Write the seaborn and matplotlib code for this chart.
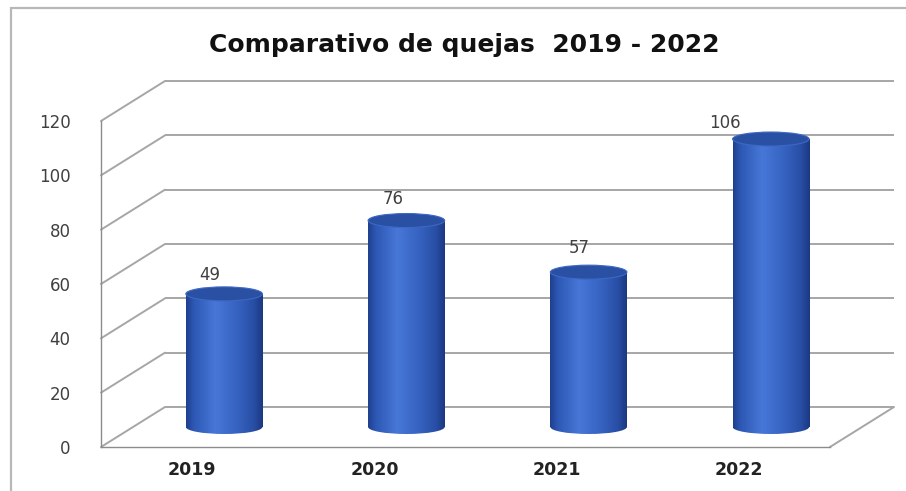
import numpy as np
import pandas as pd
import matplotlib
matplotlib.use("Agg")
import matplotlib.pyplot as plt
import matplotlib.transforms as mtransforms
from matplotlib.patches import Ellipse, Rectangle
from matplotlib.colors import LinearSegmentedColormap
import seaborn as sns

# ---- data ----
years = ["2019", "2020", "2021", "2022"]
quejas = [49, 76, 57, 106]
y_ticks = [0, 20, 40, 60, 80, 100, 120]
title = "Comparativo de quejas  2019 - 2022"

# label nudges (pixels) relative to the top of each cylinder
label_dx = [-14, -13, -9, -46]
label_dy = [19, 22, 24, 16]

# ---- style ----
W, H, DPI = 906, 491, 100
sns.set_style("white")
plt.rcParams["font.family"] = ["DejaVu Sans"]
GRID = "#a6a6a6"
AXIS = "#8c8c8c"
TEXT = "#404040"

fig = plt.figure(figsize=(W / DPI, H / DPI), dpi=DPI)

# front plane of the 3-D box (pixel edges)
left, right, floor_px, top_px = 101, 830, 447, 121
ax = fig.add_axes([left / W, 1 - floor_px / H, (right - left) / W, (floor_px - top_px) / H])

df = pd.DataFrame({"year": years, "quejas": quejas})
sns.barplot(data=df, x="year", y="quejas", width=0.42, color="#3a66c8",
            errorbar=None, ax=ax, zorder=3)
ax.set_xlim(-0.5, 3.5)
ax.set_ylim(0, 120)
ax.set_xlabel("")
ax.set_ylabel("")

# depth of the box in data units
px_x = (right - left) / 4.0
px_y = (floor_px - top_px) / 120.0
DX, DY = 64 / px_x, 40 / px_y
back = mtransforms.Affine2D().translate(DX, DY) + ax.transData
mid = mtransforms.Affine2D().translate(DX / 2, DY / 2) + ax.transData

# back wall gridlines and left side connectors
for v in y_ticks:
    ax.plot([-0.5, 3.5], [v, v], transform=back, color=GRID, lw=1.4,
            clip_on=False, zorder=1, solid_capstyle="butt")
    ax.plot([-0.5, -0.5 + DX], [v, v + DY], color=GRID, lw=1.4,
            clip_on=False, zorder=1)
# right edge of the floor
ax.plot([3.5, 3.5 + DX], [0, DY], color=GRID, lw=1.4, clip_on=False, zorder=1)

# cylinder shading
cyl = LinearSegmentedColormap.from_list(
    "cyl",
    [(0.0, "#1f3f8e"), (0.1, "#2d58b4"), (0.38, "#4777d8"),
     (0.65, "#3764c2"), (0.88, "#294fa6"), (1.0, "#1b3882")])
grad = np.linspace(0, 1, 256).reshape(1, -1)
eh = 14 / px_y  # ellipse height in value units

for patch, v, ndx, ndy in zip(ax.patches, quejas, label_dx, label_dy):
    x0, w = patch.get_x(), patch.get_width()
    cx = x0 + w / 2
    patch.set_transform(mid)
    patch.set_clip_on(False)
    patch.set_facecolor("none")
    patch.set_edgecolor("none")

    body = ax.imshow(grad, extent=[x0, x0 + w, 0, v], aspect="auto", cmap=cyl,
                     transform=mid, zorder=3.1, interpolation="bilinear")
    body.set_clip_path(patch)

    base = Ellipse((cx, 0), w, eh, transform=mid, facecolor="none",
                   edgecolor="none")
    ax.add_patch(base)
    bimg = ax.imshow(grad, extent=[x0, x0 + w, -eh / 2, 0], aspect="auto",
                     cmap=cyl, transform=mid, zorder=3.1, interpolation="bilinear")
    bimg.set_clip_path(base)

    cap = Ellipse((cx, v), w, eh, transform=mid, facecolor="#2a50a4",
                  edgecolor="#3d68c4", lw=0.8, zorder=3.5, clip_on=False)
    ax.add_patch(cap)

    ax.annotate(str(v), xy=(cx, v), xycoords=mid, xytext=(ndx, ndy),
                textcoords="offset pixels", ha="center", va="center",
                fontsize=12, color=TEXT, zorder=5, annotation_clip=False)

ax.set_xlim(-0.5, 3.5)
ax.set_ylim(0, 120)

# axes
for s in ("top", "right"):
    ax.spines[s].set_visible(False)
for s in ("left", "bottom"):
    ax.spines[s].set_color(AXIS)
    ax.spines[s].set_linewidth(1.0)
    ax.spines[s].set_zorder(2)

ax.set_yticks(y_ticks)
ax.tick_params(axis="y", length=5, width=1, color=AXIS, pad=17,
               labelsize=12, labelcolor=TEXT)
ax.set_xticks(range(len(years)), years)
ax.set_xticks(np.arange(-0.5, len(years)), minor=True)
ax.tick_params(axis="x", which="major", length=0, pad=10, labelsize=12.5,
               labelcolor="#222222")
ax.tick_params(axis="x", which="minor", length=5, width=1, color=AXIS)
for lab in ax.get_xticklabels():
    lab.set_fontweight("bold")
    lab.set_fontsize(12.5)

fig.text(464 / W, 1 - 45 / H, title, ha="center", va="center",
         fontsize=18, fontweight="bold", color="#111111")

# chart frame
fig.add_artist(Rectangle((11 / W, -0.1), 1.2, 1.1 - 8 / H,
                         transform=fig.transFigure, fill=False,
                         edgecolor="#b8b8b8", lw=1.6))

fig.savefig("out.png", dpi=DPI)
